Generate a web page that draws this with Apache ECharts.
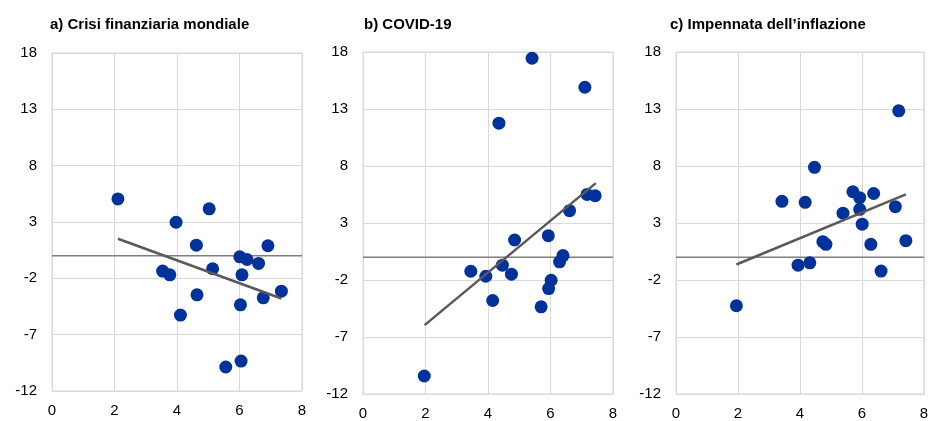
<!DOCTYPE html>
<html><head><meta charset="utf-8">
<script src="https://cdn.jsdelivr.net/npm/echarts@6/dist/echarts.min.js"></script>
<style>html,body{margin:0;padding:0;background:#fff}#c{width:931px;height:421px}</style>
</head><body><div id="c"></div>
<script>
const titles = ["a) Crisi finanziaria mondiale", "b) COVID-19", "c) Impennata dell\u2019inflazione"];
const xTicks = [0, 2, 4, 6, 8];
const yTicks = [-12, -7, -2, 3, 8, 13, 18];

const pointsA = [[2.11,5.05],[5.03,4.17],[3.97,2.98],[4.62,0.94],[6.91,0.89],[6.01,-0.09],[6.24,-0.33],[6.61,-0.68],[3.54,-1.36],[3.77,-1.69],[5.14,-1.15],[6.08,-1.69],[7.34,-3.14],[6.76,-3.73],[4.64,-3.46],[6.03,-4.35],[4.11,-5.26],[6.05,-9.34],[5.56,-9.87]];
const trendA = [[2.11,1.51],[7.34,-3.79]];

const pointsB = [[5.41,17.45],[7.10,14.91],[4.35,11.76],[7.17,5.51],[7.43,5.39],[6.61,4.08],[4.85,1.51],[5.93,1.89],[6.40,0.14],[6.29,-0.41],[4.46,-0.70],[3.45,-1.23],[3.93,-1.67],[4.75,-1.49],[6.02,-2.02],[5.94,-2.75],[4.15,-3.80],[5.70,-4.35],[1.96,-10.42]];
const trendB = [[1.97,-5.96],[7.45,6.50]];

const pointsC = [[7.19,12.84],[4.47,7.88],[5.71,5.74],[6.38,5.59],[5.93,5.22],[3.42,4.90],[4.17,4.81],[7.08,4.43],[5.93,4.20],[5.39,3.86],[6.01,2.90],[4.74,1.36],[7.42,1.45],[4.84,1.13],[6.29,1.13],[4.32,-0.49],[3.94,-0.70],[6.62,-1.22],[1.95,-4.26]];
const trendC = [[1.95,-0.64],[7.42,5.51]];

const points = [pointsA, pointsB, pointsC];
const trends = [trendA, trendB, trendC];

const grids = [
  {left: 52, top: 53, width: 250, height: 338},
  {left: 363, top: 52, width: 250, height: 343},
  {left: 676, top: 52, width: 250, height: 345}
];
const titlePos = [{left: 50, top: 17}, {left: 364, top: 17}, {left: 670, top: 17}];

const FONT = 'Liberation Sans, Arial, sans-serif';
const gridColor = '#d9d9d9';

const option = {
  animation: false,
  title: titles.map((t, i) => ({
    text: t, left: titlePos[i].left, top: titlePos[i].top, padding: 0,
    textStyle: {fontFamily: FONT, fontSize: 15, fontWeight: 'bold', color: '#000'}
  })),
  grid: grids.map(g => Object.assign({show: true, borderColor: gridColor, borderWidth: 1, backgroundColor: 'transparent'}, g)),
  xAxis: grids.map((g, i) => ({
    gridIndex: i, type: 'value', min: xTicks[0], max: xTicks[xTicks.length-1], interval: 2,
    axisLine: {show: false}, axisTick: {show: false},
    splitLine: {show: true, lineStyle: {color: gridColor, width: 1}},
    axisLabel: {fontFamily: FONT, fontSize: 15, color: '#000', margin: 12}
  })),
  yAxis: grids.map((g, i) => ({
    gridIndex: i, type: 'value', min: yTicks[0], max: yTicks[yTicks.length-1], interval: 5,
    axisLine: {show: false}, axisTick: {show: false},
    splitLine: {show: true, lineStyle: {color: gridColor, width: 1}},
    axisLabel: {fontFamily: FONT, fontSize: 15, color: '#000', margin: 15}
  })),
  series: []
};

for (let i = 0; i < 3; i++) {
  option.series.push({
    type: 'line', xAxisIndex: i, yAxisIndex: i,
    data: [[xTicks[0], 0], [xTicks[xTicks.length-1], 0]],
    symbol: 'none', lineStyle: {color: '#7f7f7f', width: 1.5}, z: 2, silent: true
  });
  option.series.push({
    type: 'scatter', xAxisIndex: i, yAxisIndex: i,
    data: points[i], symbolSize: 13,
    itemStyle: {color: '#003299', opacity: 1}, z: 3
  });
  option.series.push({
    type: 'line', xAxisIndex: i, yAxisIndex: i,
    data: trends[i], symbol: 'none',
    lineStyle: {color: '#595959', width: 2.5}, z: 4, silent: true
  });
}

const chart = echarts.init(document.getElementById('c'), null, {renderer: 'canvas'});
chart.setOption(option);
</script>
</body></html>
